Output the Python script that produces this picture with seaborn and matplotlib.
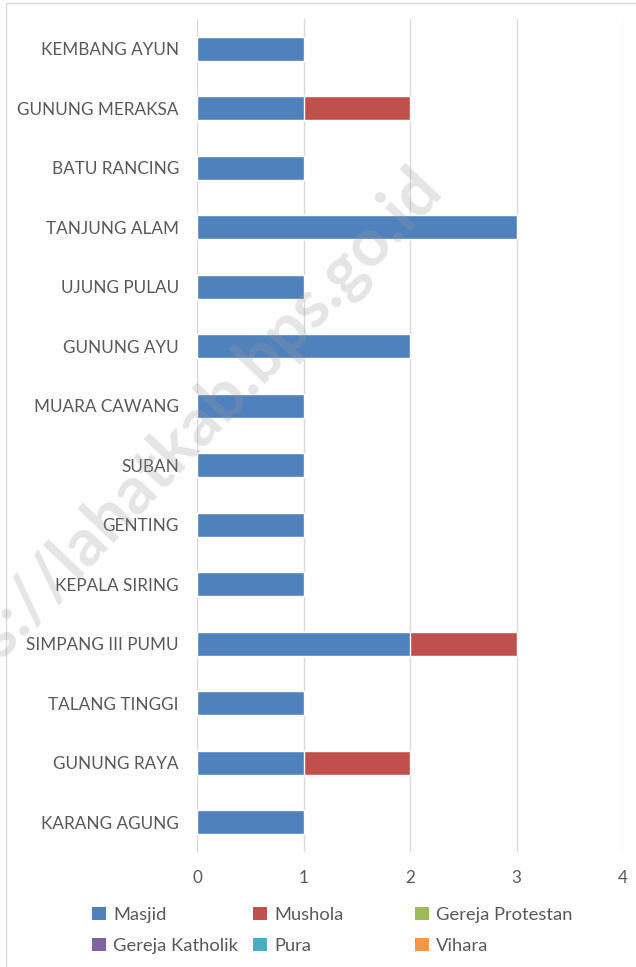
import matplotlib
matplotlib.use("Agg")
import matplotlib.pyplot as plt
import seaborn as sns
import pandas as pd
import numpy as np
from matplotlib.patches import Patch, Rectangle

categories = ["KEMBANG AYUN", "GUNUNG MERAKSA", "BATU RANCING", "TANJUNG ALAM",
              "UJUNG PULAU", "GUNUNG AYU", "MUARA CAWANG", "SUBAN", "GENTING",
              "KEPALA SIRING", "SIMPANG III PUMU", "TALANG TINGGI", "GUNUNG RAYA",
              "KARANG AGUNG"]
masjid = [1, 1, 1, 3, 1, 2, 1, 1, 1, 1, 2, 1, 1, 1]
mushola = [0, 1, 0, 0, 0, 0, 0, 0, 0, 0, 1, 0, 1, 0]
gereja_protestan = [0] * 14
gereja_katholik = [0] * 14
pura = [0] * 14
vihara = [0] * 14

series_names = ["Masjid", "Mushola", "Gereja Protestan", "Gereja Katholik", "Pura", "Vihara"]
series_vals = [masjid, mushola, gereja_protestan, gereja_katholik, pura, vihara]
colors = ["#4f81bd", "#c0504d", "#9bbb59", "#8064a2", "#4bacc6", "#f79646"]
xticks = [0, 1, 2, 3, 4]

sns.set_theme(style="white")
plt.rcParams["font.family"] = ["Lato", "DejaVu Sans"]
text_color = "#595959"

W, H = 636, 967
fig = plt.figure(figsize=(W / 100, H / 100), dpi=100)
ax = fig.add_axes([197/W, 1-852/H, (623-197)/W, (852-19)/H])

cum = np.cumsum(np.array(series_vals), axis=0)
for i in range(len(series_names) - 1, -1, -1):
    df = pd.DataFrame({"cat": categories, "val": cum[i]})
    sns.barplot(data=df, y="cat", x="val", orient="h", color=colors[i],
                width=0.4, ax=ax, saturation=1, zorder=3)

ax.set_xlim(0, 4)
ax.set_xticks(xticks)
ax.set_xticklabels([str(t) for t in xticks])
ax.set_xlabel("")
ax.set_ylabel("")
ax.xaxis.grid(True, color="#d9d9d9", linewidth=1)
ax.set_axisbelow(True)
for s in ax.spines.values():
    s.set_visible(False)
ax.tick_params(axis="both", length=0, colors=text_color, labelsize=12.3)
ax.tick_params(axis="x", pad=13)
ax.tick_params(axis="y", pad=13)
for lbl in ax.get_xticklabels() + ax.get_yticklabels():
    lbl.set_color(text_color)

col_x = [92, 253, 415]
row_y = [915, 946]
for k, (name, c) in enumerate(zip(series_names, colors)):
    r, cidx = divmod(k, 3)
    leg = fig.legend([Patch(facecolor=c, edgecolor="none")], [name],
                     loc="center left", bbox_to_anchor=(col_x[cidx]/W, 1 - row_y[r]/H),
                     frameon=False, fontsize=13.2, handlelength=0.75, handleheight=0.75,
                     handletextpad=0.4, borderpad=0, borderaxespad=0)
    for t in leg.get_texts():
        t.set_color(text_color)

fig.patches.append(Rectangle((6/W, -0.1), 1.2, 1 - 3/H + 0.1,
                             transform=fig.transFigure, fill=False,
                             edgecolor="#d9d9d9", linewidth=1))

fig.text(444/W, 1 - 190/H, "https://lahatkab.bps.go.id", ha="right", va="baseline",
         rotation=46.5, rotation_mode="anchor", fontsize=48, fontweight="bold",
         color="#9a9a9a", alpha=0.26, zorder=10)

fig.savefig("out.png", dpi=100)
